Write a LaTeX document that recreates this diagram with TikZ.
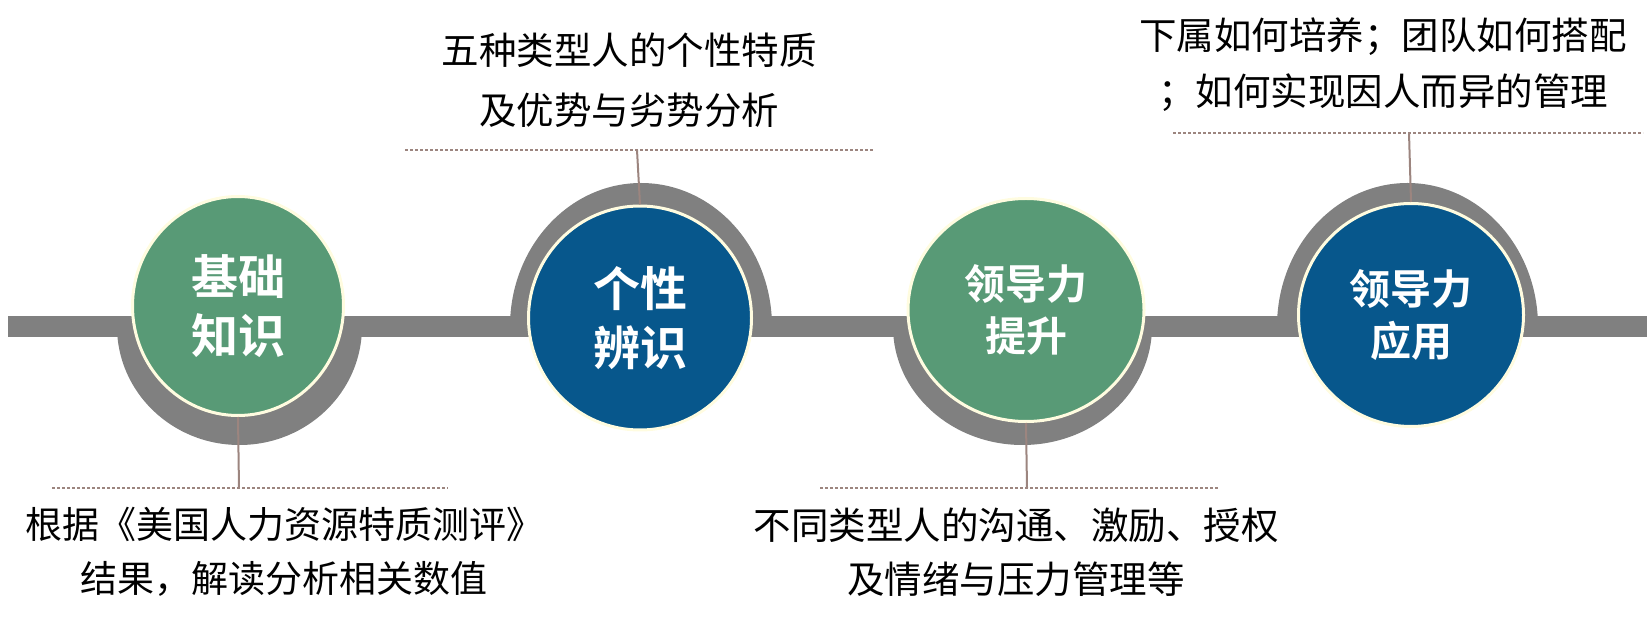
\documentclass[tikz,border=0pt]{standalone}
\usepackage{fontspec}
\setmainfont{Noto Sans CJK SC}[BoldFont={Noto Sans CJK SC Bold}]
\usepackage{tikz}
\usetikzlibrary{shapes.geometric}
\definecolor{stagegreen}{RGB}{88,154,118}
\definecolor{stageblue}{RGB}{7,87,140}
\definecolor{railgray}{RGB}{128,128,128}
\definecolor{linkbrown}{RGB}{156,133,127}
\definecolor{rimcream}{RGB}{255,252,224}

\begin{document}
\begin{tikzpicture}[x=1pt, y=1pt,
    stage/.style={ellipse, draw=rimcream, line width=3pt, text=white, align=center, inner sep=0pt},
    twochar/.style={font=\fontsize{47}{59}\selectfont\bfseries},
    threechar/.style={font=\fontsize{41}{52}\selectfont\bfseries},
    desc/.style={align=center, inner sep=0pt},
    link/.style={linkbrown, line width=2pt},
    dots/.style={linkbrown, line width=2pt, dash pattern=on 2.7pt off 2.3pt}
]
\useasboundingbox (0,0) rectangle (1651,616);
% rail and half rings
\fill[railgray] (8,279) rectangle (1647,300);
\fill[railgray] (117,289.5) arc[start angle=180, end angle=360, x radius=122.5, y radius=118.5] -- cycle;
\fill[railgray] (772,289.5) arc[start angle=0, end angle=180, x radius=131, y radius=143.5] -- cycle;
\fill[railgray] (893,289.5) arc[start angle=180, end angle=360, x radius=129.5, y radius=118.5] -- cycle;
\fill[railgray] (1538,289.5) arc[start angle=0, end angle=180, x radius=130.5, y radius=143.5] -- cycle;

% stages
\node[stage, fill=stagegreen, twochar, minimum width=211pt, minimum height=219pt] (base) at (238,310) {基础\\知识};
\node[stage, fill=stageblue, twochar, minimum width=223pt, minimum height=224pt] (trait) at (640,298) {个性\\辨识};
\node[stage, fill=stagegreen, threechar, minimum width=236pt, minimum height=223pt] (lead) at (1026,306) {领导力\\提升};
\node[stage, fill=stageblue, threechar, minimum width=225pt, minimum height=223pt] (apply) at (1411,301) {领导力\\应用};

% dotted rules
\draw[dots] (52,128) -- (448,128);
\draw[dots] (405,466) -- (874,466);
\draw[dots] (820,128) -- (1219,128);
\draw[dots] (1173,483) -- (1643,483);

% connectors
\coordinate (baseend) at (239,128);
\coordinate (traitend) at (637,466);
\coordinate (leadend) at (1027,128);
\coordinate (applyend) at (1409,483);
\draw[link] (base.south) -- (baseend);
\draw[link] (trait.north) -- (traitend);
\draw[link] (lead.south) -- (leadend);
\draw[link] (apply.north) -- (applyend);

% descriptions
\node[desc, font=\fontsize{37}{54}\selectfont] (basetxt) at (284,64) {根据《美国人力资源特质测评》\\结果，解读分析相关数值};
\node[desc, font=\fontsize{37.5}{60}\selectfont] (traittxt) at (629,536) {五种类型人的个性特质\\及优势与劣势分析};
\node[desc, font=\fontsize{37.5}{54}\selectfont] (leadtxt) at (1016,64) {不同类型人的沟通、激励、授权\\及情绪与压力管理等};
\node[desc, font=\fontsize{37.5}{56}\selectfont] (applytxt) at (1383,551) {下属如何培养；团队如何搭配\\；如何实现因人而异的管理};
\end{tikzpicture}
\end{document}
